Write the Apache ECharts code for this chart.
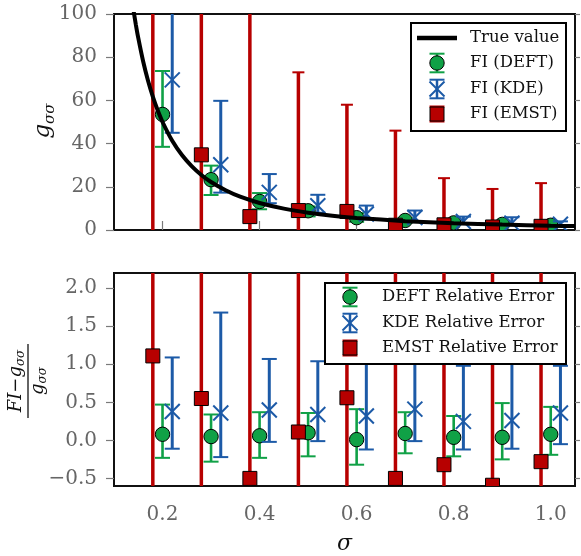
<!DOCTYPE html>
<html><head><meta charset="utf-8">
<script src="https://cdn.jsdelivr.net/npm/echarts@6/dist/echarts.min.js"></script>
<style>html,body{margin:0;padding:0;background:#fff}#c{width:581px;height:556px}</style>
</head><body><div id="c"></div>
<script>
// ---------- data ----------
const sigmaDEFT = [0.2, 0.3, 0.4, 0.5, 0.6, 0.7, 0.8, 0.9, 1.0];
const sigmaKDE  = [0.22, 0.32, 0.42, 0.52, 0.62, 0.72, 0.82, 0.92, 1.02];
const sigmaEMST = [0.18, 0.28, 0.38, 0.48, 0.58, 0.68, 0.78, 0.88, 0.98];

// true value curve
const trueSigma = [0.13, 0.135, 0.14, 0.145, 0.15, 0.16, 0.17, 0.18, 0.19, 0.20, 0.22, 0.24, 0.26, 0.28, 0.30, 0.33, 0.36, 0.40, 0.45, 0.50, 0.55, 0.60, 0.70, 0.80, 0.90, 1.00, 1.05];
const trueG     = [118.3, 109.7, 102.0, 95.1, 88.9, 78.1, 69.2, 61.7, 55.4, 50.0, 41.3, 34.7, 29.6, 25.5, 22.2, 18.4, 15.4, 12.5, 9.9, 8.0, 6.6, 5.6, 4.1, 3.1, 2.5, 2.0, 1.8];

// top panel: Fisher information estimates
const deftFI   = [53.5, 23.3, 13.2, 8.9, 5.7, 4.4, 3.3, 2.6, 2.2];
const deftFILo = [38.5, 16.2, 9.6, 6.3, 3.8, 3.4, 2.5, 1.9, 1.6];
const deftFIHi = [73.6, 29.8, 17.1, 10.9, 7.8, 5.6, 4.1, 3.7, 2.9];
const kdeFI    = [69.5, 30.2, 17.4, 11.2, 7.4, 5.8, 3.9, 3.2, 2.7];
const kdeFILo  = [45.0, 17.3, 12.4, 8.0, 4.9, 3.8, 2.75, 2.2, 1.9];
const kdeFIHi  = [110, 59.8, 25.9, 16.3, 11.3, 9.0, 6.2, 5.9, 4.0];
const emstFI   = [106, 34.8, 6.2, 9.0, 8.6, 2.2, 2.4, 1.4, 1.7];
const emstFILo = [-30, -20, -15, -8, -6, -5, -4, -3, -3];
const emstFIHi = [160, 140, 120, 73, 58, 46, 24, 19, 21.7];

// bottom panel: relative errors
const deftRel   = [0.08, 0.05, 0.06, 0.10, 0.01, 0.09, 0.04, 0.04, 0.08];
const deftRelLo = [-0.23, -0.28, -0.23, -0.21, -0.32, -0.17, -0.21, -0.25, -0.19];
const deftRelHi = [0.47, 0.34, 0.37, 0.36, 0.41, 0.37, 0.32, 0.49, 0.44];
const kdeRel    = [0.38, 0.36, 0.40, 0.34, 0.32, 0.41, 0.25, 0.26, 0.36];
const kdeRelLo  = [-0.11, -0.22, -0.02, -0.01, -0.12, -0.01, -0.12, -0.11, -0.05];
const kdeRelHi  = [1.09, 1.68, 1.07, 1.04, 1.10, 1.30, 0.98, 1.40, 0.98];
const emstRel   = [1.11, 0.55, -0.50, 0.11, 0.56, -0.50, -0.32, -0.59, -0.28];
const emstRelLo = [-1.5, -1.5, -1.5, -1.5, -1.5, -1.5, -1.5, -1.5, -1.5];
const emstRelHi = [5.0, 3.0, 2.5, 8.1, 9.4, 10.3, 6.7, 6.7, 9.9];

// tick labels
const xTicks = [0.2, 0.4, 0.6, 0.8, 1.0];
const yTicksRel = [-0.5, 0.0, 0.5, 1.0, 1.5, 2.0];

const topLegend = ['True value', 'FI (DEFT)', 'FI (KDE)', 'FI (EMST)'];
const botLegend = ['DEFT Relative Error', 'KDE Relative Error', 'EMST Relative Error'];

// ---------- style ----------
const SERIF = '"DejaVu Serif", serif';
const GREEN = '#10a146', BLUE = '#1c5aa7', RED = '#b70000';
const TICK = '#7a7a7a', LABEL = '#666666';

const ctx = document.createElement('canvas').getContext('2d');
function tw(t, f) { ctx.font = f; return ctx.measureText(t).width; }

function rows(xs, ys, lo, hi) { return xs.map((x, i) => [x, ys[i], lo[i], hi[i]]); }

function markerEl(kind, cx, cy) {
  if (kind === 'circle') return { type: 'circle', shape: { cx, cy, r: 7.2 }, style: { fill: GREEN, stroke: '#000', lineWidth: 1 } };
  if (kind === 'square') return { type: 'rect', shape: { x: cx - 7, y: cy - 7, width: 14, height: 14 }, style: { fill: RED, stroke: '#000', lineWidth: 1 } };
  const h = 7.5;
  return { type: 'group', children: [
    { type: 'line', shape: { x1: cx - h, y1: cy - h, x2: cx + h, y2: cy + h }, style: { stroke: BLUE, lineWidth: 2 } },
    { type: 'line', shape: { x1: cx - h, y1: cy + h, x2: cx + h, y2: cy - h }, style: { stroke: BLUE, lineWidth: 2 } }
  ] };
}

function errSeries(name, gi, data, color, lw, capW, kind) {
  return {
    type: 'custom', name, xAxisIndex: gi, yAxisIndex: gi * 2, clip: true, data,
    encode: { x: 0, y: 1 },
    renderItem(params, api) {
      const x = api.value(0);
      const p = api.coord([x, api.value(1)]);
      const pl = api.coord([x, api.value(2)]);
      const ph = api.coord([x, api.value(3)]);
      return { type: 'group', children: [
        { type: 'line', shape: { x1: pl[0], y1: pl[1], x2: ph[0], y2: ph[1] }, style: { stroke: color, lineWidth: lw } },
        { type: 'line', shape: { x1: pl[0] - capW / 2, y1: pl[1], x2: pl[0] + capW / 2, y2: pl[1] }, style: { stroke: color, lineWidth: 2 } },
        { type: 'line', shape: { x1: ph[0] - capW / 2, y1: ph[1], x2: ph[0] + capW / 2, y2: ph[1] }, style: { stroke: color, lineWidth: 2 } },
        markerEl(kind, p[0], p[1])
      ] };
    }
  };
}

function legendIcon(kind, cx, cy) {
  if (kind === 'line') return [{ type: 'line', shape: { x1: cx - 20, y1: cy, x2: cx + 20, y2: cy }, style: { stroke: '#000', lineWidth: 4.5 } }];
  const color = kind === 'circle' ? GREEN : kind === 'x' ? BLUE : RED;
  const d = kind === 'square' ? 7.5 : 9.3;
  const cw = 15;
  return [
    { type: 'line', shape: { x1: cx, y1: cy - d, x2: cx, y2: cy + d }, style: { stroke: color, lineWidth: 2.5 } },
    { type: 'line', shape: { x1: cx - cw / 2, y1: cy - d, x2: cx + cw / 2, y2: cy - d }, style: { stroke: color, lineWidth: 2 } },
    { type: 'line', shape: { x1: cx - cw / 2, y1: cy + d, x2: cx + cw / 2, y2: cy + d }, style: { stroke: color, lineWidth: 2 } },
    markerEl(kind, cx, cy)
  ];
}

function txt(t, x, y, font, align, valign) {
  return { type: 'text', style: { text: t, x, y, font, fill: '#111',
    textAlign: align, textVerticalAlign: valign, align: align, verticalAlign: valign } };
}

function legendBox(x, y, w, h, items, kinds, sx, tx, ys, fs) {
  const ch = [{ type: 'rect', shape: { x, y, width: w, height: h }, style: { fill: '#fff', stroke: '#000', lineWidth: 2 } }];
  items.forEach((t, i) => {
    legendIcon(kinds[i], sx, ys[i]).forEach(e => ch.push(e));
    ch.push(txt(t, tx, ys[i], fs + 'px ' + SERIF, 'left', 'middle'));
  });
  return { type: 'group', children: ch };
}

// rotated math labels
function subLabel(parts, cy) {
  const total = parts.reduce((s, p) => s + tw(p[0], p[1]), 0);
  let x = -total / 2;
  return parts.map(p => {
    const el = txt(p[0], x, cy + p[2], p[1], 'left', 'middle');
    x += tw(p[0], p[1]);
    return el;
  });
}

function setZ(el, z) {
  el.z = z; el.zlevel = 0;
  if (el.children) el.children.forEach(c => setZ(c, z));
  return el;
}

const I22 = 'italic 23px ' + SERIF, I15 = 'italic 15px ' + SERIF;
const I17 = 'italic 18px ' + SERIF, N17 = '18px ' + SERIF, I12 = 'italic 12px ' + SERIF;

const yLabelTop = { type: 'group', x: 46, y: 121, rotation: Math.PI / 2,
  children: subLabel([['g', I22, -3], ['σσ', I15, 4]], 0) };

const numer = subLabel([['FI', I17, 0], ['−', N17, 0], ['g', I17, 0], ['σσ', I12, 5]], -12);
const denom = subLabel([['g', I17, 0], ['σσ', I12, 5]], 10);
const yLabelBot = { type: 'group', x: 28, y: 381, rotation: Math.PI / 2,
  children: [{ type: 'line', shape: { x1: -37, y1: 0, x2: 37, y2: 0 }, style: { stroke: '#111', lineWidth: 1.3 } }].concat(numer, denom) };

function fmtRel(v) { return (v < 0 ? '−' : '') + Math.abs(v).toFixed(1); }

const commonX = {
  type: 'value', min: 0.1, max: 1.05, splitLine: { show: false }, axisLine: { show: false }
};
const option = {
  animation: false,
  backgroundColor: '#fff',
  grid: [
    { left: 114, top: 14, width: 461, height: 216, show: true, borderColor: '#111', borderWidth: 2 },
    { left: 114, top: 273, width: 461, height: 216, show: true, borderColor: '#111', borderWidth: 2 }
  ],
  xAxis: [
    Object.assign({}, commonX, { gridIndex: 0,
      axisTick: { inside: true, length: 9, customValues: xTicks, lineStyle: { color: TICK, width: 1.2 } },
      axisLabel: { show: false } }),
    Object.assign({}, commonX, { gridIndex: 1,
      axisTick: { inside: false, length: 9, customValues: xTicks, lineStyle: { color: TICK, width: 1.2 } },
      axisLabel: { customValues: xTicks, formatter: v => v.toFixed(1), color: LABEL, fontFamily: SERIF, fontSize: 20, margin: 19 },
      name: 'σ', nameLocation: 'middle', nameGap: 47,
      nameTextStyle: { fontFamily: SERIF, fontStyle: 'italic', fontSize: 22, color: '#111' } })
  ],
  yAxis: [
    { gridIndex: 0, type: 'value', min: 0, max: 100, interval: 20, position: 'left',
      splitLine: { show: false }, axisLine: { show: false },
      axisTick: { length: 8, lineStyle: { color: TICK, width: 1.2 } },
      axisLabel: { color: LABEL, fontFamily: SERIF, fontSize: 20, margin: 17 } },
    { gridIndex: 0, type: 'value', min: 0, max: 100, interval: 20, position: 'right',
      splitLine: { show: false }, axisLine: { show: false },
      axisTick: { length: 5, lineStyle: { color: TICK, width: 1.2 } }, axisLabel: { show: false } },
    { gridIndex: 1, type: 'value', min: -0.6, max: 2.2, position: 'left',
      splitLine: { show: false }, axisLine: { show: false },
      axisTick: { length: 8, customValues: yTicksRel, lineStyle: { color: TICK, width: 1.2 } },
      axisLabel: { customValues: yTicksRel, formatter: fmtRel, color: LABEL, fontFamily: SERIF, fontSize: 20, margin: 17 } },
    { gridIndex: 1, type: 'value', min: -0.6, max: 2.2, position: 'right',
      splitLine: { show: false }, axisLine: { show: false },
      axisTick: { length: 5, customValues: yTicksRel, lineStyle: { color: TICK, width: 1.2 } }, axisLabel: { show: false } }
  ],
  series: [
    errSeries('FI (DEFT)', 0, rows(sigmaDEFT, deftFI, deftFILo, deftFIHi), GREEN, 2.6, 15, 'circle'),
    { type: 'line', name: 'True value', xAxisIndex: 0, yAxisIndex: 0, data: trueSigma.map((s, i) => [s, trueG[i]]),
      showSymbol: false, smooth: 0.2, clip: true, lineStyle: { color: '#000', width: 4 } },
    errSeries('FI (KDE)', 0, rows(sigmaKDE, kdeFI, kdeFILo, kdeFIHi), BLUE, 3, 15, 'x'),
    errSeries('FI (EMST)', 0, rows(sigmaEMST, emstFI, emstFILo, emstFIHi), RED, 3.5, 12, 'square'),
    errSeries('DEFT Relative Error', 1, rows(sigmaDEFT, deftRel, deftRelLo, deftRelHi), GREEN, 2.6, 15, 'circle'),
    errSeries('KDE Relative Error', 1, rows(sigmaKDE, kdeRel, kdeRelLo, kdeRelHi), BLUE, 3, 15, 'x'),
    errSeries('EMST Relative Error', 1, rows(sigmaEMST, emstRel, emstRelLo, emstRelHi), RED, 3.5, 12, 'square')
  ],
  graphic: [
    setZ(legendBox(411, 23, 155, 108, topLegend, ['line', 'circle', 'x', 'square'], 437, 470, [38, 63, 89, 114], 16.5), 100),
    setZ(legendBox(325, 283, 241, 81, botLegend, ['circle', 'x', 'square'], 350, 382, [297, 323, 348], 16.5), 100),
    setZ(yLabelTop, 100), setZ(yLabelBot, 100)
  ]
};
const chart = echarts.init(document.getElementById('c'), null, { renderer: 'canvas' });
chart.setOption(option);
</script></body></html>
